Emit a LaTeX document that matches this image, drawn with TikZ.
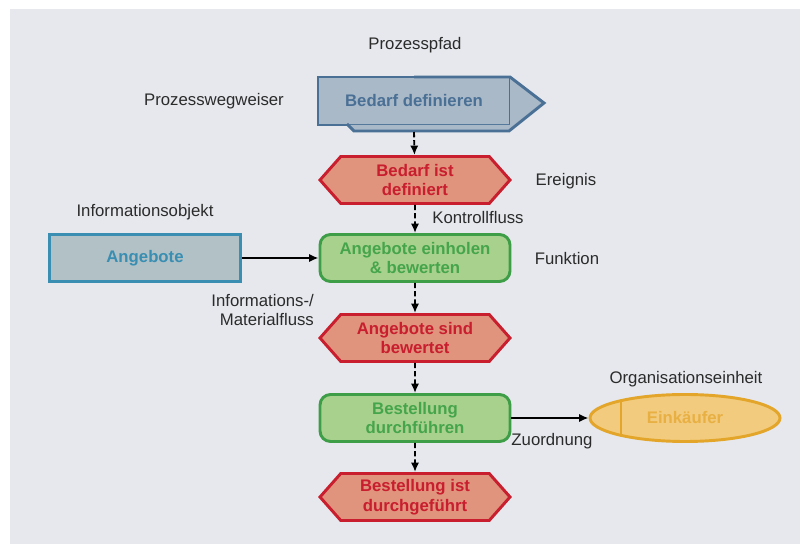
\documentclass[tikz,border=0pt]{standalone}
\usepackage{fontspec}
\setmainfont{Liberation Sans}
\usetikzlibrary{shapes.geometric,shapes.symbols,arrows.meta}
\definecolor{bg}{HTML}{E6E8ED}
\definecolor{lbl}{HTML}{2B2B2B}
\definecolor{wegf}{HTML}{A9B9C8}
\definecolor{wegd}{HTML}{4A7095}
\definecolor{evf}{HTML}{E0937D}
\definecolor{evd}{HTML}{C81E2E}
\definecolor{fnf}{HTML}{A9D18E}
\definecolor{fnd}{HTML}{3E9E47}
\definecolor{fnt}{HTML}{45A54B}
\definecolor{iof}{HTML}{B1C1C6}
\definecolor{iod}{HTML}{3A8EB2}
\definecolor{orgf}{HTML}{F2CB7E}
\definecolor{orgd}{HTML}{E3A52A}
\definecolor{orgt}{HTML}{E8B043}
\begin{document}
\begin{tikzpicture}[x=.03cm,y=-.03cm,
	every node/.style={font=\fontsize{14.3}{17}\selectfont,text=lbl,align=center},
	bold/.style={font=\bfseries\fontsize{14.3}{17}\selectfont,line width=2.5pt,inner sep=0pt},
	ev/.style={bold,shape=signal,signal to=west and east,signal pointer angle=97,draw=evd,fill=evf,text=evd,minimum width=5.7cm,minimum height=1.41cm},
	fn/.style={bold,rectangle,rounded corners=9pt,draw=fnd,fill=fnf,text=fnt,minimum width=5.7cm,minimum height=1.41cm},
	flow/.style={line width=1.6pt,-{Latex[length=8pt,width=7pt]}},
	ctrl/.style={flow,dash pattern=on 4.5pt off 2.5pt}]
		\fill[bg](10,9)rectangle(800,544);
		\useasboundingbox(0,0)rectangle(800,544);
		% Prozesswegweiser
		\node[bold,rectangle,outer sep=0pt,draw=wegd,fill=wegf,text=wegd,minimum width=5.76cm,minimum height=1.44cm](weg)at(414,101){Bedarf definieren};
		\fill[wegf](weg.north east)--(544,103)--(509,131)--(354,131)--(348,125)--(weg.south east)--cycle;
		\draw[line width=2.5pt,wegd](weg.north)--(weg.north east)--(544,103)--(509,131)--(354,131)--(347,124);
		\coordinate(wb)at(414,132);
		% Ereignisse und Funktionen
		\node[ev](e1)at(415,180){Bedarf ist\\definiert};
		\node[fn](f1)at(415,258){Angebote einholen\\\& bewerten};
		\node[ev](e2)at(415,338){Angebote sind\\bewertet};
		\node[fn](f2)at(415,418){Bestellung\\durchf\"uhren};
		\node[ev](e3)at(415,497){Bestellung ist\\durchgef\"uhrt};
		% Informationsobjekt, Organisationseinheit
		\node[bold,rectangle,draw=iod,fill=iof,text=iod,minimum width=5.73cm,minimum height=1.41cm](io)at(145,258){Angebote};
		\node[bold,ellipse,draw=orgd,fill=orgf,text=orgt,minimum width=5.7cm,minimum height=1.41cm,
			path picture={\draw[orgd,line width=2.5pt]([xshift=.93cm]path picture bounding box.north west)--([xshift=.93cm]path picture bounding box.south west);}](org)at(685,418){Eink\"aufer};
		\foreach\a/\b in{wb/e1,e1/f1,f1/e2,e2/f2,f2/e3}{\draw[ctrl](\a)--(\b);}
		\draw[flow](io)--(f1);
		\draw[flow](f2)--(org);
		% Beschriftungen
		\node(lpfad)at(415,45){Prozesspfad};
		\node(lweg)at(214,101){Prozesswegweiser};
		\node(lev)at(566,181){Ereignis};
		\node(lio)at(145,212){Informationsobjekt};
		\node(lkf)at(478,218){Kontrollfluss};
		\node(lfn)at(567,259){Funktion};
		\node[align=right,anchor=east](lmf)at(318,310){Informations-/\\Materialfluss};
		\node(lorg)at(686,379){Organisationseinheit};
		\node(lzu)at(552,441){Zuordnung};
\end{tikzpicture}
\end{document}
